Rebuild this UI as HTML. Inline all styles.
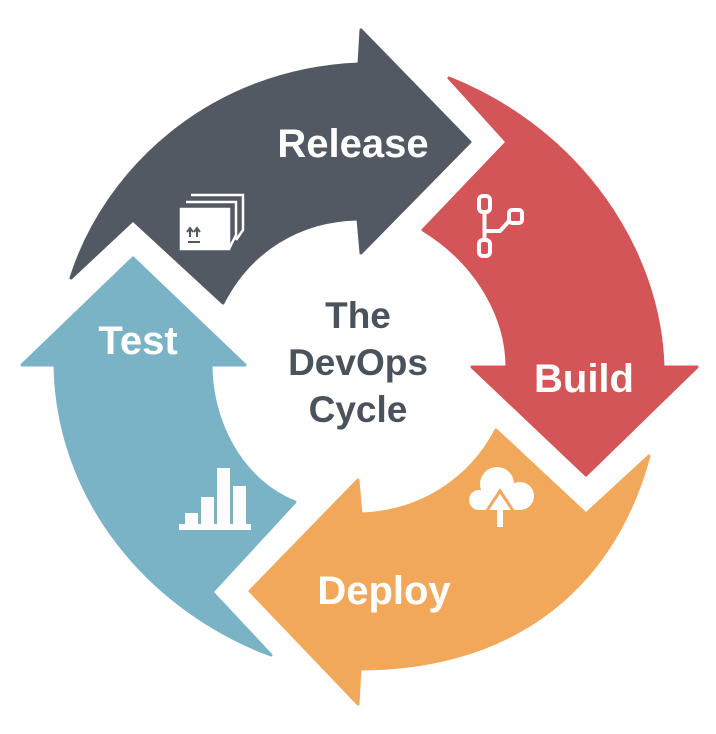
<!DOCTYPE html>
<html><head><meta charset="utf-8"><style>
html,body{margin:0;padding:0;background:#fff;width:716px;height:734px;overflow:hidden}
svg{display:block}
text{font-family:"Liberation Sans",sans-serif;font-weight:bold}
</style></head><body>
<svg width="716" height="734" viewBox="0 0 716 734" xmlns="http://www.w3.org/2000/svg">
<g stroke-linejoin="round" stroke-width="3">
<path fill="#525962" stroke="#525962" d="M71,278 L133,220 L223,303 C250,250 300,220 358,219 L361,253 L470,142 L361,30 L359,64 C210,70 105,170 71,278 Z"/>
<path fill="#d45558" stroke="#d45558" d="M449,78 C580,130 660,250 663,367 L697,367 L586,475 L472,367 L507,367 C507,320 480,265 423,230 L507,142 Z"/>
<path fill="#79b3c5" stroke="#79b3c5" d="M133,258 L245,365 L211,365 C211,420 240,480 295,502 L212,592 L271,655 C150,610 57,500 55,365 L22,365 Z"/>
<path fill="#f2a85b" stroke="#f2a85b" d="M250,591 L358,480 L361,514 C420,512 470,480 496,430 L586,514 L649,456 C610,600 500,669 360,669 L358,704 Z"/>
</g>
<g fill="#fff" font-size="40" text-anchor="middle">
<text x="353" y="157">Release</text>
<text x="584" y="392">Build</text>
<text x="138" y="354">Test</text>
<text x="384" y="604">Deploy</text>
</g>
<g fill="#4a525b" font-size="37" text-anchor="middle">
<text x="358" y="328">The</text>
<text x="358" y="375">DevOps</text>
<text x="358" y="422">Cycle</text>
</g>
<!-- box icon -->
<g fill="none" stroke="#fff" stroke-width="2.5">
<rect x="181" y="209" width="48" height="40" fill="#fff"/>
<path d="M186,202 L236,202 L236,235 L229,249 M191,195 L243,195 L243,230 L236,240"/>
</g>
<g stroke="#525962" stroke-width="2" fill="none">
<path d="M188,242 L200,242 M190,237 L190,229 M197,237 L197,229 M187,232 L190,228 L193,232 M194,232 L197,228 L200,232"/>
</g>
<!-- branch icon -->
<g fill="none" stroke="#fff" stroke-width="4">
<rect x="479" y="196" width="11" height="16" rx="4"/>
<rect x="479" y="240" width="11" height="16" rx="4"/>
<rect x="509" y="210" width="13" height="13" rx="3"/>
<path d="M484.5,212 L484.5,240 M484.5,231 L500,231 L510,220"/>
</g>
<!-- bar chart -->
<g fill="#fff">
<rect x="179" y="524" width="72" height="6"/>
<rect x="185" y="513" width="13" height="12"/>
<rect x="201" y="497" width="13" height="28"/>
<rect x="217" y="468" width="13" height="57"/>
<rect x="233" y="486" width="13" height="39"/>
</g>
<!-- cloud -->
<g fill="#fff">
<circle cx="497" cy="484" r="17"/>
<circle cx="520" cy="496" r="14"/>
<circle cx="479" cy="500" r="10"/>
<rect x="479" y="495" width="43" height="15"/>
</g>
<g fill="none" stroke="#f2a85b" stroke-width="3"><path d="M486,512 L500,491 L514,512"/></g>
<g fill="#fff"><path d="M500,494 L509,508 L503,508 L503,527 L497,527 L497,508 L491,508 Z"/></g>
</svg>
</body></html>
